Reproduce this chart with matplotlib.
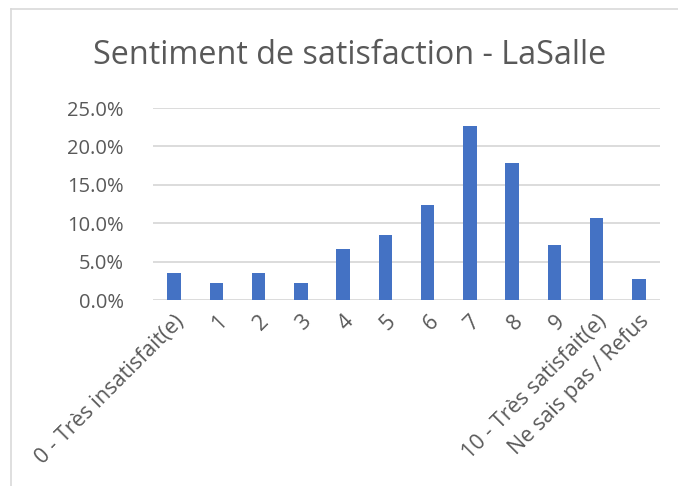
import matplotlib
matplotlib.use("Agg")
import matplotlib.pyplot as plt
from matplotlib.lines import Line2D
from matplotlib.ticker import PercentFormatter

categories = ["0 - Très insatisfait(e)", "1", "2", "3", "4", "5", "6", "7", "8", "9",
              "10 - Très satisfait(e)", "Ne sais pas / Refus"]
values = [3.5, 2.2, 3.5, 2.2, 6.7, 8.4, 12.4, 22.7, 17.8, 7.1, 10.7, 2.7]
yticks = [0, 5, 10, 15, 20, 25]

plt.rcParams['font.family'] = ['Open Sans', 'DejaVu Sans']
text_color = "#595959"
grid_color = "#d9d9d9"

fig = plt.figure(figsize=(6.78, 4.86), dpi=100)
ax = fig.add_axes([153 / 678, 1 - 300 / 486, 507 / 678, 192 / 486])

x = range(len(categories))
ax.bar(x, values, width=0.32, color="#4472C4", zorder=3)

ax.set_xlim(-0.5, len(categories) - 0.5)
ax.set_ylim(0, 25)
ax.set_yticks(yticks)
ax.yaxis.set_major_formatter(PercentFormatter(decimals=1))
ax.grid(axis="y", color=grid_color, linewidth=1.3, zorder=0)
for s in ax.spines.values():
    s.set_visible(False)
ax.tick_params(axis="both", length=0, colors=text_color)
ax.tick_params(axis="y", pad=21, labelsize=14.5)
ax.set_xticks(list(x))
ax.set_xticklabels(categories, rotation=45, ha="right", rotation_mode="anchor")
ax.tick_params(axis="x", pad=8, labelsize=15.5)

fig.text(0.516, 1 - 55 / 486, "Sentiment de satisfaction - LaSalle",
         ha="center", va="center", fontsize=23.3, color=text_color)

# chart frame (left and top edges visible)
fig.add_artist(Line2D([11 / 678, 11 / 678], [0, 1 - 9 / 486], transform=fig.transFigure,
                      color=grid_color, linewidth=1.2))
fig.add_artist(Line2D([11 / 678, 1], [1 - 9 / 486, 1 - 9 / 486], transform=fig.transFigure,
                      color=grid_color, linewidth=1.2))

fig.savefig("out.png", dpi=100)
